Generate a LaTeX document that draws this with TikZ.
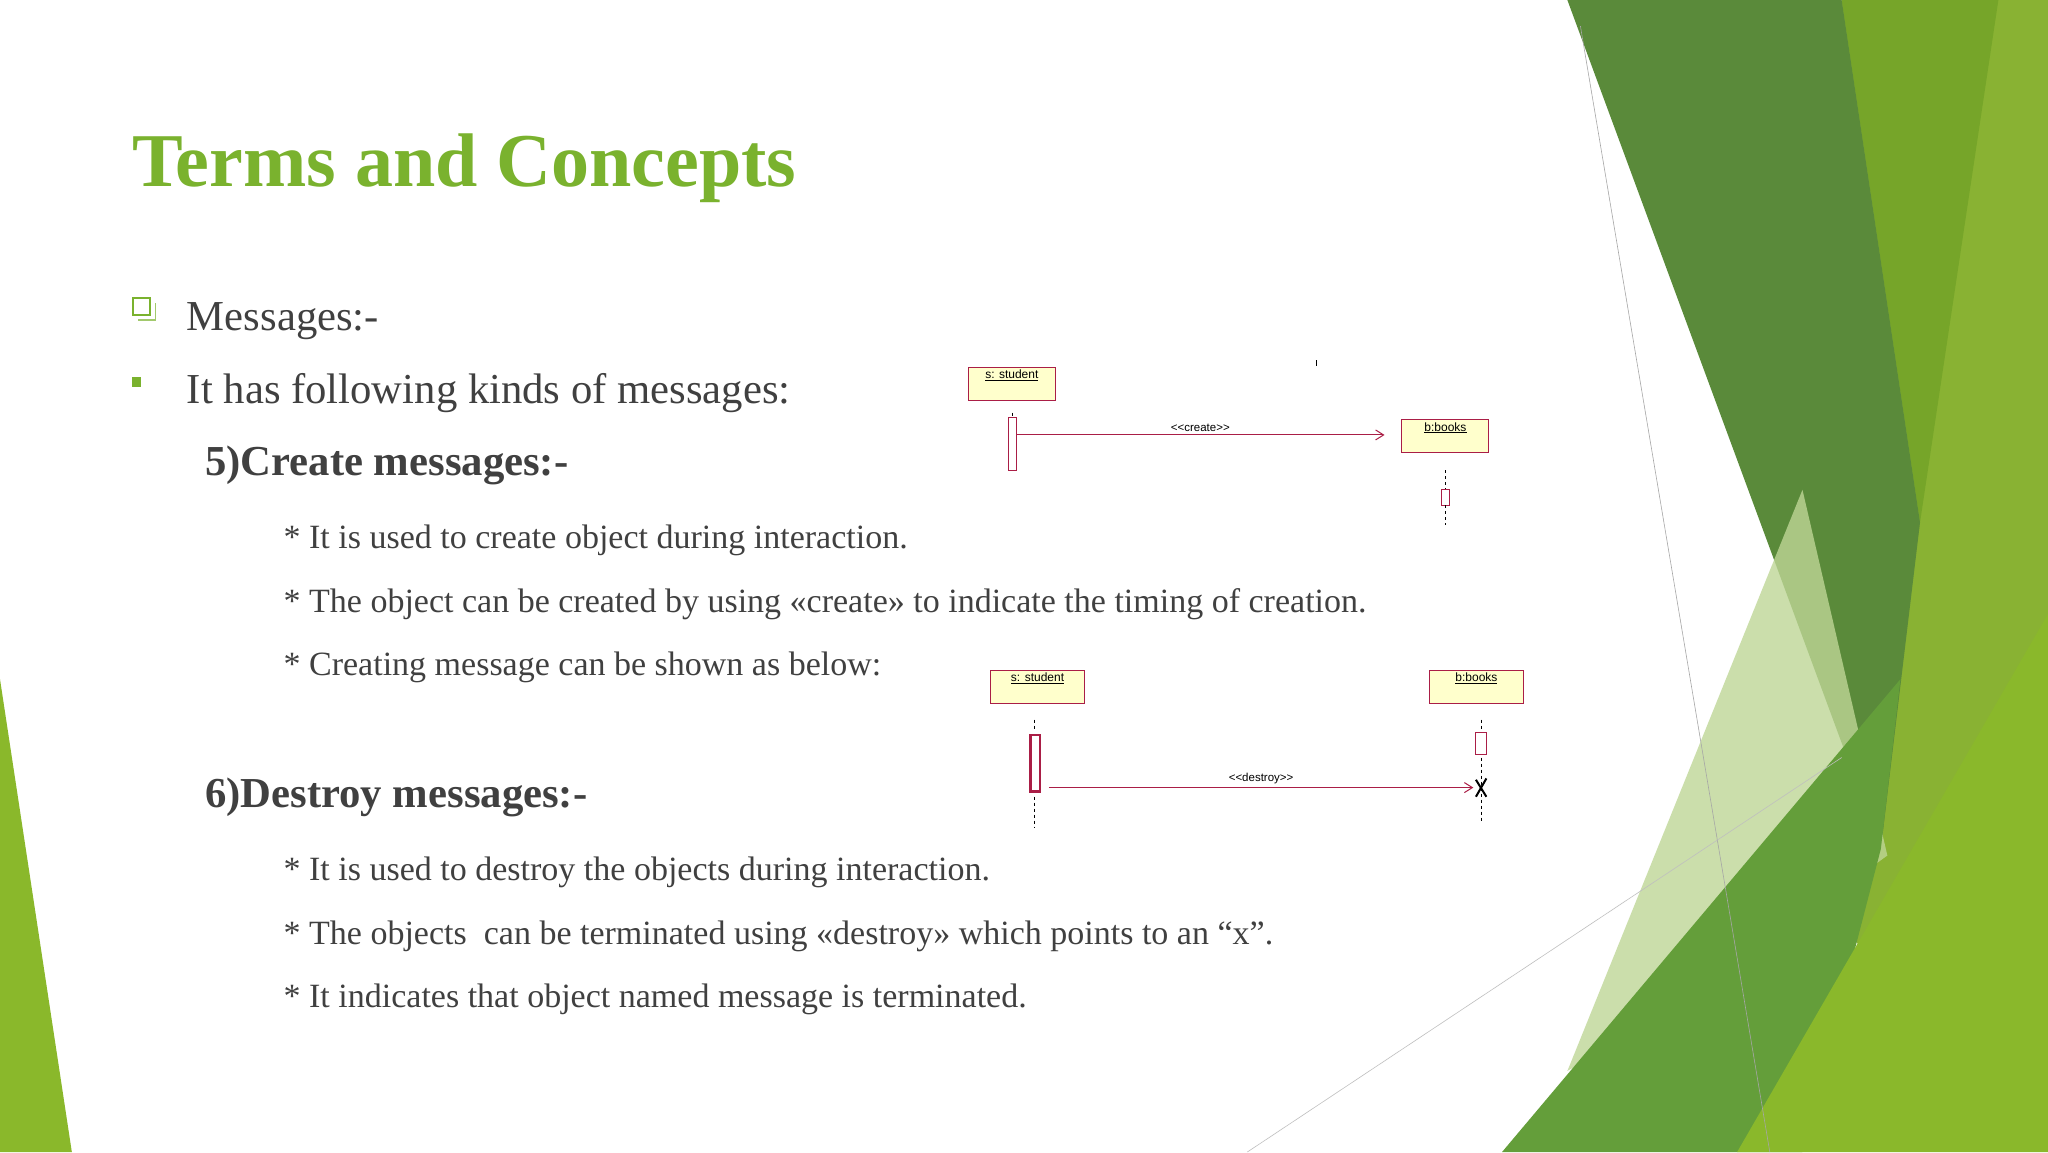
\documentclass[tikz,border=0pt]{standalone}
\usepackage{fontspec}
\setmainfont{Liberation Serif}
\newfontfamily\diag{Liberation Sans}
\usetikzlibrary{arrows.meta}
\definecolor{ttl}{RGB}{122,178,46}
\definecolor{txt}{RGB}{64,64,64}
\definecolor{umlred}{RGB}{170,30,70}
\definecolor{umlfill}{RGB}{255,255,204}
\definecolor{dkg}{RGB}{90,138,58}
\definecolor{limeA}{RGB}{118,165,41}
\definecolor{limeB}{RGB}{137,178,51}
\definecolor{limeC}{RGB}{138,184,43}
\definecolor{midg}{RGB}{100,158,58}
\definecolor{paleg}{RGB}{190,214,150}
\tikzset{
  x=1.30612pt,y=-1.30612pt,
  para/.style={anchor=base west,font=\fontsize{42.7}{50}\selectfont,text=txt,inner sep=0},
  head/.style={anchor=base west,font=\fontsize{42.7}{50}\selectfont\bfseries,text=txt,inner sep=0},
  sub/.style={anchor=base west,font=\fontsize{34}{40}\selectfont,text=txt,inner sep=0},
  obj/.style={draw=umlred,fill=umlfill,line width=1pt,minimum width=#1,minimum height=25*1.306pt,inner sep=0,anchor=north west},
  objtxt/.style={font=\diag\fontsize{12}{14}\selectfont,anchor=north,inner sep=0,text=black},
  msg/.style={draw=umlred,line width=1pt,-{Straight Barb[length=8pt,width=10pt]}},
  msglab/.style={font=\diag\fontsize{11.5}{13}\selectfont,anchor=base,inner sep=0},
  life/.style={dash pattern=on 3pt off 3pt,line width=1pt},
  act/.style={draw=umlred,fill=white,line width=1pt}
}
\begin{document}
\begin{tikzpicture}
\fill[white] (0,0) rectangle (1568,882);
% background shapes
\fill[limeB] (1410,0) -- (1568,0) -- (1568,882) -- (1420,720) -- cycle;
\fill[limeA] (1410,0) -- (1530,0) -- (1425,700) -- (1470,400) -- cycle;
\fill[dkg] (1200,0) -- (1410,0) -- (1470,400) -- (1440,650) -- cycle;
\fill[paleg,opacity=0.8] (1200,820) -- (1380,375) -- (1445,655) -- (1300,760) -- cycle;
\fill[midg] (1150,882) -- (1455,520) -- (1440,650) -- (1380,882) -- cycle;
\fill[limeC] (1330,882) -- (1568,470) -- (1568,882) -- cycle;
\fill[limeC] (0,520) -- (55,882) -- (0,882) -- cycle;
\draw[gray!70,line width=0.6pt] (1210,20) -- (1355,882);
\draw[gray!50,line width=0.6pt] (955,882) -- (1410,580);
% title and text
\node[anchor=base west,font=\fontsize{76}{80}\selectfont\bfseries,text=ttl,inner sep=0] (title) at (101,143) {Terms and Concepts};
\draw[ttl,line width=1.6pt,fill=white] (102,228) rectangle (115,241);
\draw[ttl!70,line width=1.2pt] (106,245) -- (119,245) -- (119,232);
\node[para] (m) at (143,253) {Messages:-};
\fill[ttl] (101,289) rectangle (108,296);
\node[para] (k) at (143,309) {It has following kinds of messages:};
\node[head] (h5) at (157,364) {5)Create messages:-};
\node[sub] (s1) at (217,420) {* It is used to create object during interaction.};
\node[sub] (s2) at (217,469) {* The object can be created by using <<create>> to indicate the timing of creation.};
\node[sub] (s3) at (217,517) {* Creating message can be shown as below:};
\node[head] (h6) at (157,618) {6)Destroy messages:-};
\node[sub] (d1) at (217,674) {* It is used to destroy the objects during interaction.};
\node[sub] (d2) at (217,723) {* The objects\ \ can be terminated using <<destroy>> which points to an “x”.};
\node[sub] (d3) at (217,771) {* It indicates that object named message is terminated.};
% diagram 1
\node[obj=87pt] (st1) at (741,281) {};
\node[objtxt] at ([yshift=-3pt]st1.north) {\underline{s: student}};
\node[obj=87pt] (bk1) at (1073,321) {};
\node[objtxt] at ([yshift=-3pt]bk1.north) {\underline{b:books}};
\draw[life] (775,316) -- (775,320);
\draw[act] (772,320) rectangle (778,360);
\coordinate (a1s) at (778,333);
\coordinate (a1e) at (1060,333);
\draw[msg] (a1s) -- node[msglab,above=3pt] {<{}<create>{}>} (a1e);
\draw[life] (1107,360) -- (1107,375);
\draw[act] (1104,375) rectangle (1110,387);
\draw[life] (1107,387) -- (1107,402);
\draw[line width=1pt] (1008,276) -- (1008,280);
% diagram 2
\node[obj=94pt] (st2) at (758,513) {};
\node[objtxt] at ([yshift=-3pt]st2.north) {\underline{s: student}};
\node[obj=94pt] (bk2) at (1094,513) {};
\node[objtxt] at ([yshift=-3pt]bk2.north) {\underline{b:books}};
\draw[life] (792,551) -- (792,558);
\draw[act,line width=2.2pt] (789,563) rectangle (796,606);
\draw[life] (792,610) -- (792,633);
\draw[life] (1134,551) -- (1134,558);
\draw[act] (1130,561) rectangle (1138,578);
\draw[life] (1134,580) -- (1134,630);
\coordinate (a2s) at (803,603);
\coordinate (a2e) at (1128,603);
\draw[msg] (a2s) -- node[msglab,above=3pt] {<{}<destroy>{}>} (a2e);
\draw[line width=2pt] (1130,597) -- (1138,610) (1138,596) -- (1130,610);
\end{tikzpicture}
\end{document}
